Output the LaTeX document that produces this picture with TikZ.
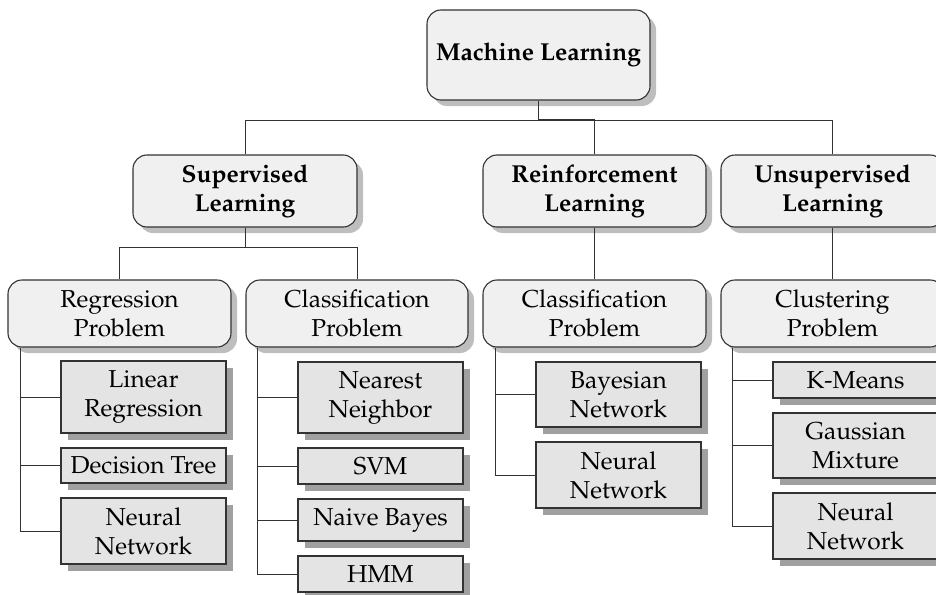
\documentclass[tikz,border=0pt]{standalone}
\usepackage[T1]{fontenc}
\usepackage{mathpazo}
\usetikzlibrary{shadows,calc}

\definecolor{linec}{HTML}{333333}
\definecolor{roundfill}{HTML}{F0F0F0}
\definecolor{roundshadow}{HTML}{BEBEBE}
\definecolor{leaffill}{HTML}{E4E4E4}
\definecolor{leafshadow}{HTML}{A0A0A0}

\tikzset{
  every node/.style={font=\fontsize{24.5}{29}\selectfont, align=center, inner sep=0pt},
  topbox/.style={draw=linec, line width=1.1pt, fill=roundfill, rounded corners=14pt,
    drop shadow={shadow xshift=6pt, shadow yshift=-6pt, fill=roundshadow, opacity=1},
    font=\fontsize{24.5}{29}\selectfont\bfseries},
  midbox/.style={draw=linec, line width=1.1pt, fill=roundfill, rounded corners=14pt,
    drop shadow={shadow xshift=6pt, shadow yshift=-6pt, fill=roundshadow, opacity=1}},
  leafbox/.style={draw=linec, line width=1.1pt, fill=leaffill, minimum width=165pt,
    drop shadow={shadow xshift=7pt, shadow yshift=-7pt, fill=leafshadow, opacity=1}},
  link/.style={draw=linec, line width=0.9pt},
  thicklink/.style={draw=linec, line width=1.6pt},
}

\begin{document}
\begin{tikzpicture}[x=1pt, y=-1pt]
\useasboundingbox (0,0) rectangle (936,594);

% root
\node[topbox, minimum width=223pt, minimum height=90pt] (ml) at (538.5,55) {Machine Learning};

% learning paradigms
\node[topbox, minimum width=224pt, minimum height=72pt] (sup) at (245,191) {Supervised\\Learning};
\node[topbox, minimum width=223pt, minimum height=72pt] (rein) at (594.5,191) {Reinforcement\\Learning};
\node[topbox, minimum width=223pt, minimum height=72pt] (unsup) at (832.5,191) {Unsupervised\\Learning};

% problem types
\node[midbox, minimum width=223pt, minimum height=67pt] (reg) at (119.5,313.5) {Regression\\Problem};
\node[midbox, minimum width=222pt, minimum height=67pt] (clsa) at (357,313.5) {Classification\\Problem};
\node[midbox, minimum width=223pt, minimum height=67pt] (clsb) at (594.5,313.5) {Classification\\Problem};
\node[midbox, minimum width=223pt, minimum height=67pt] (clu) at (832.5,313.5) {Clustering\\Problem};

% regression methods
\node[leafbox, minimum height=72pt] (lin) at (143.5,397) {Linear\\Regression};
\node[leafbox, minimum height=35pt] (dt) at (143.5,465.5) {Decision Tree};
\node[leafbox, minimum height=66pt] (nna) at (143.5,531) {Neural\\Network};

% classification methods
\node[leafbox, minimum height=71pt] (nnb) at (380.5,397.5) {Nearest\\Neighbor};
\node[leafbox, minimum height=36pt] (svm) at (380.5,466) {SVM};
\node[leafbox, minimum height=42pt] (nbay) at (380.5,520) {Naive Bayes};
\node[leafbox, minimum height=36pt] (hmm) at (380.5,574) {HMM};

% reinforcement methods
\node[leafbox, minimum height=65pt] (bay) at (618.5,394.5) {Bayesian\\Network};
\node[leafbox, minimum height=66pt] (nnc) at (618.5,475) {Neural\\Network};

% clustering methods
\node[leafbox, minimum height=36pt] (km) at (855.5,380) {K-Means};
\node[leafbox, minimum height=65pt] (gm) at (855.5,445.5) {Gaussian\\Mixture};
\node[leafbox, minimum height=66pt] (nnd) at (855.5,526) {Neural\\Network};

% bus lines
\coordinate (busa) at (0,120);
\coordinate (busb) at (0,247);

\draw[link] (ml.south |- busa) -| (sup.north);
\draw[link] (ml.south |- busa) -| (unsup.north);
\draw[link] (rein.north) -- (rein.north |- busa);
\draw[thicklink, line join=miter] (ml.south) -- (ml.south |- busa) -- (rein.north |- busa);

\draw[link] (sup.south) -- (sup.south |- busb) -| (reg.north);
\draw[link] (sup.south |- busb) -| (clsa.north);
\draw[link] (rein.south) -- (clsb.north);
\draw[link] (unsup.south) -- (clu.north);

% spines under the problem boxes
\coordinate (spa) at ($(reg.south west)+(13,0)$);
\coordinate (spb) at ($(clsa.south west)+(12,0)$);
\coordinate (spc) at ($(clsb.south west)+(13,0)$);
\coordinate (spd) at ($(clu.south west)+(12,0)$);

\draw[link] (spa) |- (nna.west);
\draw[link] (spa) |- (lin.west);
\draw[link] (spa) |- (dt.west);

\draw[link] (spb) |- (hmm.west);
\draw[link] (spb) |- (nnb.west);
\draw[link] (spb) |- (svm.west);
\draw[link] (spb) |- (nbay.west);

\draw[link] (spc) |- (nnc.west);
\draw[link] (spc) |- (bay.west);

\draw[link] (spd) |- (nnd.west);
\draw[link] (spd) |- (km.west);
\draw[link] (spd) |- (gm.west);
\end{tikzpicture}
\end{document}
